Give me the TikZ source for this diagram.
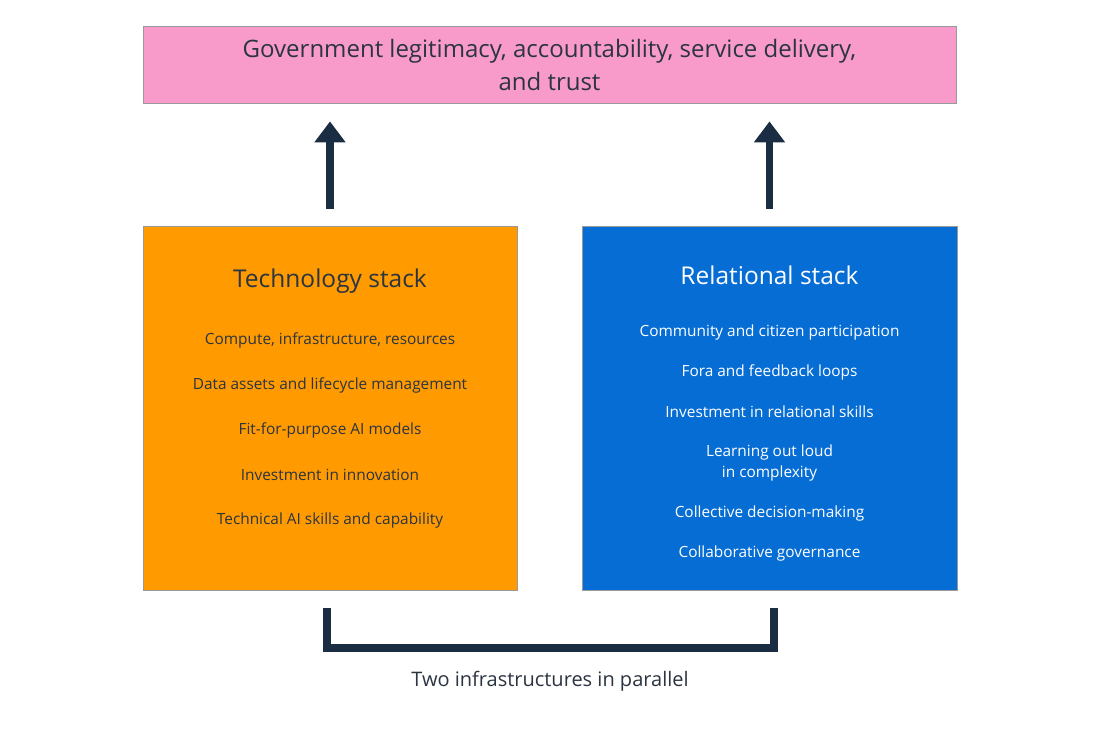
\documentclass[tikz,border=0pt]{standalone}
\usepackage{fontspec}
\setmainfont{Open Sans}
\usetikzlibrary{arrows.meta, positioning}
\definecolor{goalpink}{HTML}{F89BCB}
\definecolor{techorange}{HTML}{FF9A00}
\definecolor{relblue}{HTML}{056DD3}
\definecolor{navy}{HTML}{1A2D42}
\definecolor{inktext}{HTML}{2B3440}

\begin{document}
\begin{tikzpicture}[x=1pt, y=-1pt]
  \tikzset{box/.style={draw=gray!80, line width=0.8pt, inner sep=0pt, minimum width=374pt, minimum height=364pt},
    heading/.style={font=\fontsize{24.5}{28}\selectfont, text=inktext},
    item/.style={font=\fontsize{15.4}{20.5}\selectfont, align=center, text=inktext, node distance=45pt},
    uparrow/.style={draw=navy, line width=7.5pt, -{Triangle[width=30pt, length=21pt]}, shorten <=17pt, shorten >=18pt},
    bracket/.style={draw=navy, line width=8pt}}
  \useasboundingbox (0,0) rectangle (1100,732);

  % goal at the top
  \node[box, fill=goalpink, minimum width=813pt, minimum height=77pt, align=center, text=inktext,
        font=\fontsize{24}{33}\selectfont] (goal) at (549.5,64.5)
        {Government legitimacy, accountability, service delivery,\\and trust};

  % the two stacks
  \node[box, fill=techorange] (tech) at (330,408) {};
  \node[box, fill=relblue, minimum width=375pt] (rel) at (769.5,408) {};

  \node[heading] (techtitle) at (330,281) {Technology stack};
  \node[item] (t1) at (330,340) {Compute, infrastructure, resources};
  \node[item, below of=t1] (t2) {Data assets and lifecycle management};
  \node[item, below of=t2] (t3) {Fit-for-purpose AI models};
  \node[item, below of=t3] (t4) {Investment in innovation};
  \node[item, below of=t4] (t5) {Technical AI skills and capability};

  \node[heading, text=white] (reltitle) at (769.5,275) {Relational stack};
  \node[item, text=white] (r1) at (769.5,332) {Community and citizen participation};
  \node[item, text=white, node distance=40pt, below of=r1] (r2) {Fora and feedback loops};
  \node[item, text=white, node distance=40pt, below of=r2] (r3) {Investment in relational skills};
  \node[item, text=white, node distance=51pt, below of=r3] (r4) {Learning out loud\\in complexity};
  \node[item, text=white, node distance=50pt, below of=r4] (r5) {Collective decision-making};
  \node[item, text=white, node distance=40pt, below of=r5] (r6) {Collaborative governance};

  % arrows up to the goal
  \draw[uparrow] (tech.north) -- (tech.north |- goal.south);
  \draw[uparrow] (rel.north) -- (rel.north |- goal.south);

  % bracket below
  \coordinate (bl) at (326.5,608);
  \coordinate (br) at (773.5,608);
  \draw[bracket] (bl) -- ++(0,40) -| (br);
  \node[font=\fontsize{20}{24}\selectfont, text=inktext] (caption) at (550,681) {Two infrastructures in parallel};
\end{tikzpicture}
\end{document}
